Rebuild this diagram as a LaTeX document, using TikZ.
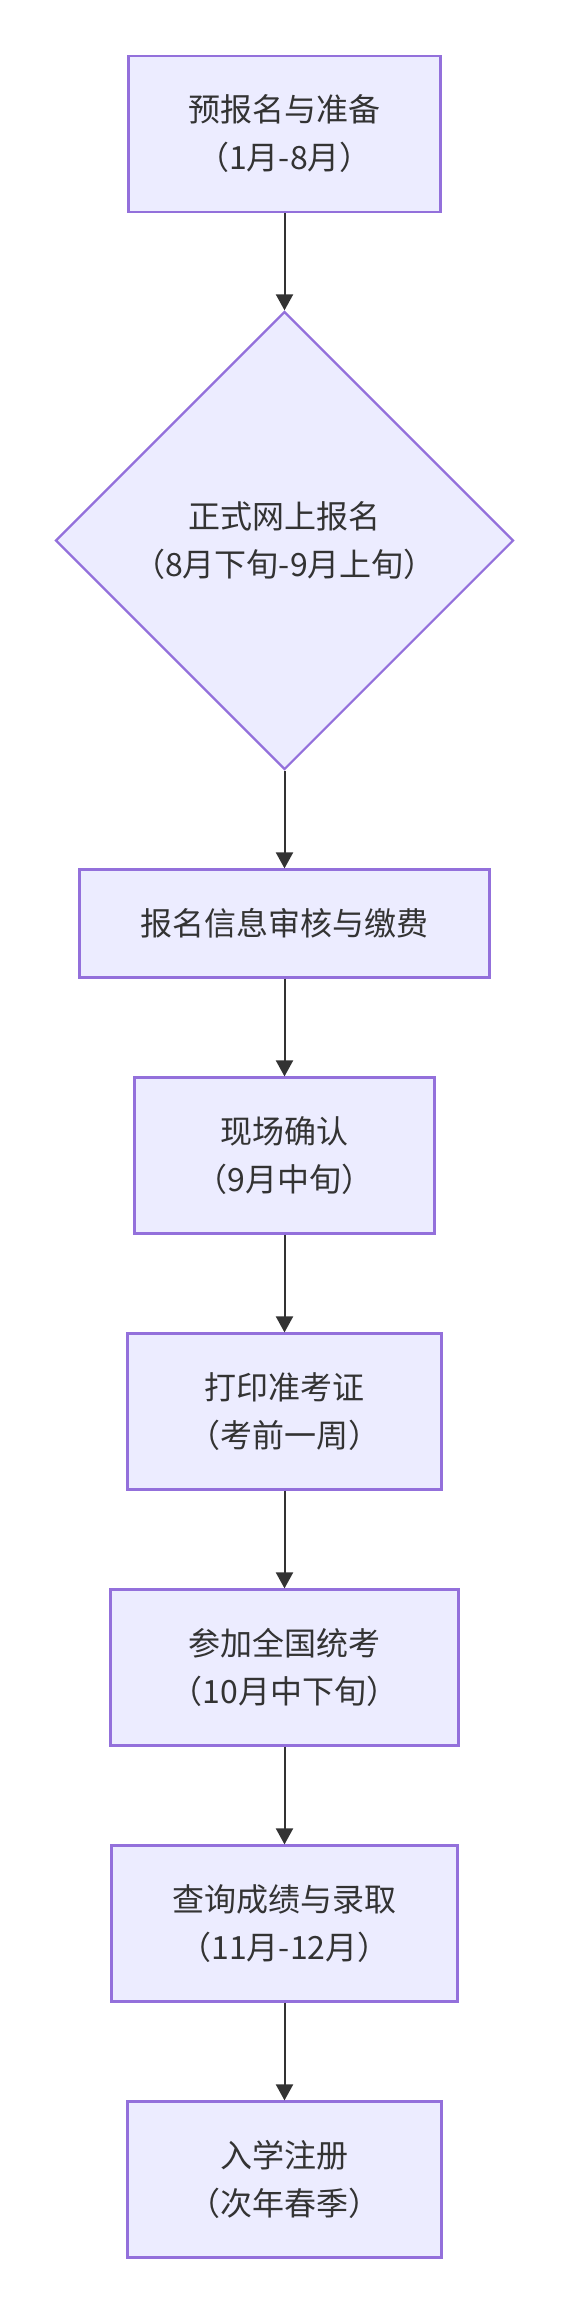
\documentclass[tikz,border=0pt]{standalone}
\usepackage{fontspec}
\newfontfamily\cjk{Noto Sans CJK SC}
\usetikzlibrary{shapes.geometric,arrows.meta}
\definecolor{nodefill}{HTML}{ECECFF}
\definecolor{nodeline}{HTML}{9370DB}
\definecolor{txt}{HTML}{333333}
\definecolor{edge}{HTML}{333333}
\tikzset{
  stepbox/.style={draw=nodeline, fill=nodefill, line width=2.2pt, rectangle,
    inner sep=0pt, align=center, text=txt, font=\cjk\fontsize{32}{48}\selectfont},
  decide/.style={draw=nodeline, fill=nodefill, line width=2.2pt, diamond, aspect=1,
    inner sep=0pt, align=center, text=txt, font=\cjk\fontsize{32}{48}\selectfont,
    minimum width=458pt, minimum height=458pt},
  flow/.style={draw=edge, line width=2pt, -{Triangle[length=16pt,width=17pt]}}
}
\begin{document}
\begin{tikzpicture}[x=1pt,y=-1pt]
\useasboundingbox (0,0) rectangle (569,2313);
\node[stepbox, minimum width=312pt, minimum height=156pt] (n1) at (284.5,134) {预报名与准备\\（1月-8月）};
\node[decide] (n2) at (284.5,540.5) {正式网上报名\\（8月下旬-9月上旬）};
\node[stepbox, minimum width=410pt, minimum height=108pt] (n3) at (284.5,923.5) {报名信息审核与缴费};
\node[stepbox, minimum width=300pt, minimum height=156pt] (n4) at (284.5,1155.5) {现场确认\\（9月中旬）};
\node[stepbox, minimum width=314pt, minimum height=156pt] (n5) at (284.5,1411.5) {打印准考证\\（考前一周）};
\node[stepbox, minimum width=348pt, minimum height=156pt] (n6) at (284.5,1667.5) {参加全国统考\\（10月中下旬）};
\node[stepbox, minimum width=346pt, minimum height=156pt] (n7) at (284.5,1923.5) {查询成绩与录取\\（11月-12月）};
\node[stepbox, minimum width=314pt, minimum height=156pt] (n8) at (284.5,2179.5) {入学注册\\（次年春季）};
\draw[flow] (n1) -- (n2);
\draw[flow] (n2) -- (n3);
\draw[flow] (n3) -- (n4);
\draw[flow] (n4) -- (n5);
\draw[flow] (n5) -- (n6);
\draw[flow] (n6) -- (n7);
\draw[flow] (n7) -- (n8);
\end{tikzpicture}
\end{document}
